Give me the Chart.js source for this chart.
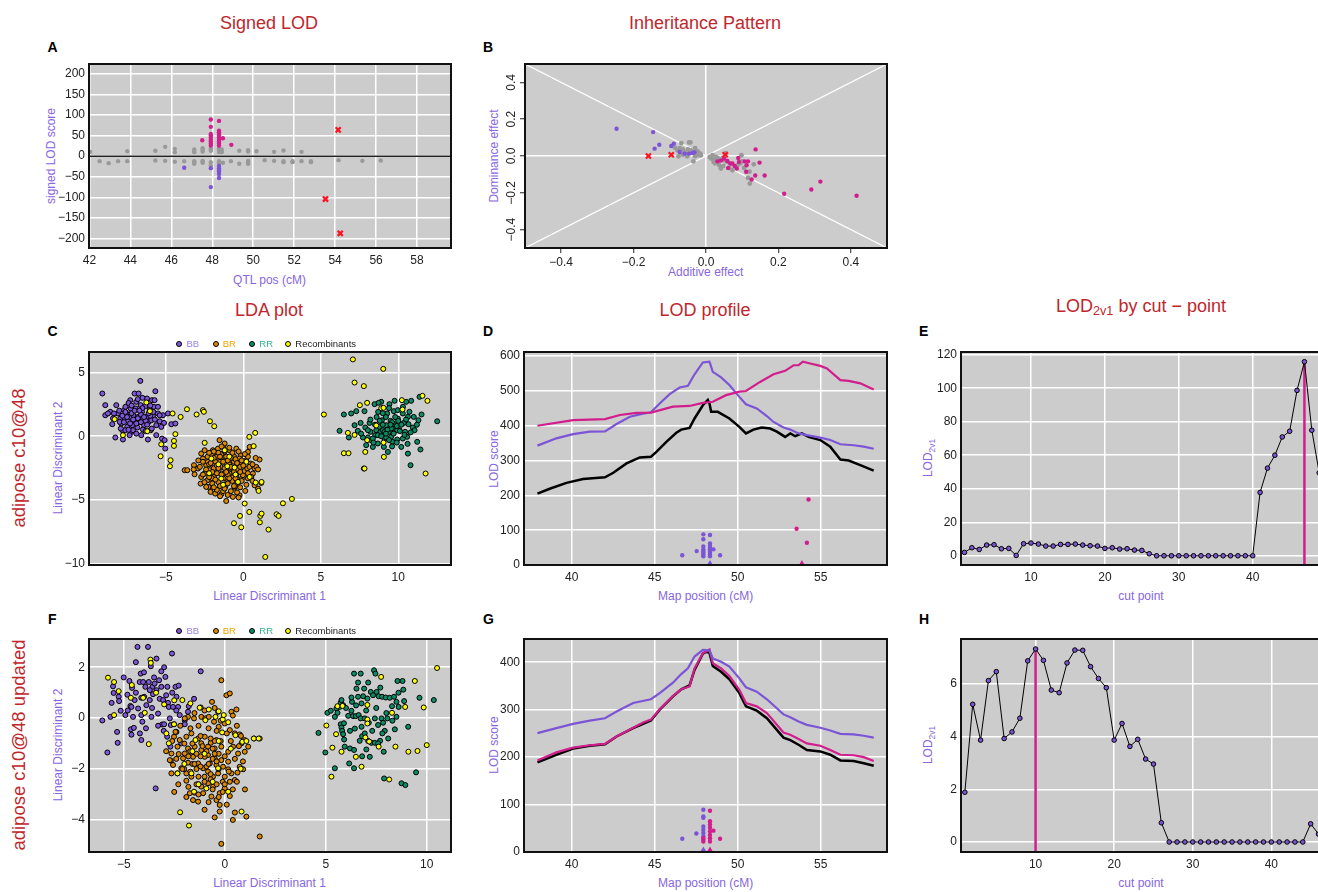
<!DOCTYPE html>
<html><head><meta charset="utf-8">
<script src="https://cdn.jsdelivr.net/npm/chart.js@4.4.1/dist/chart.umd.min.js"></script>
<style>
html,body{margin:0;padding:0;background:#fff;overflow:hidden;}
#fig{position:relative;width:1318px;height:892px;overflow:hidden;font-family:"Liberation Sans",Arial,Helvetica,sans-serif;}
canvas{position:absolute;}
.t{position:absolute;white-space:nowrap;transform:translate(-50%,-50%);line-height:1;}
.title{font-size:18px;color:#C0272D;}
.lab{position:absolute;font-size:14px;font-weight:bold;color:#000;transform:translate(0,-50%);line-height:1;}
.ax{font-size:12px;color:#8766DE;}
.rot{transform:translate(-50%,-50%) rotate(-90deg);}
.row{font-size:18.5px;color:#C0272D;}
.sub{font-size:70%;position:relative;top:0.3em;}
.leg{position:absolute;font-size:9.5px;white-space:nowrap;transform:translate(0,-50%);line-height:1;}
.dot{position:absolute;width:4px;height:4px;border:1px solid #000;border-radius:50%;transform:translate(-50%,-50%);}
</style>
</head>
<body>
<div id="fig">
  <div class="t title" style="left:269px;top:22.5px">Signed LOD</div>
  <div class="t title" style="left:705px;top:22.5px">Inheritance Pattern</div>
  <div class="t title" style="left:269px;top:309.5px">LDA plot</div>
  <div class="t title" style="left:705px;top:309.5px">LOD profile</div>
  <div class="t title" style="left:1141px;top:305.5px">LOD<span class="sub">2v1</span> by cut − point</div>

  <div class="lab" style="left:47.5px;top:47px">A</div>
  <div class="lab" style="left:483px;top:47px">B</div>
  <div class="lab" style="left:47.5px;top:331px">C</div>
  <div class="lab" style="left:483px;top:331px">D</div>
  <div class="lab" style="left:919px;top:331px">E</div>
  <div class="lab" style="left:48px;top:619px">F</div>
  <div class="lab" style="left:483px;top:619px">G</div>
  <div class="lab" style="left:919px;top:619px">H</div>

  <div class="t row rot" style="left:18.8px;top:458px">adipose c10@48</div>
  <div class="t row rot" style="left:18.8px;top:745px">adipose c10@48 updated</div>

  <div class="t ax" style="left:269.5px;top:280px">QTL pos (cM)</div>
  <div class="t ax rot" style="left:50.8px;top:156px">signed LOD score</div>
  <div class="t ax" style="left:705.7px;top:272px">Additive effect</div>
  <div class="t ax rot" style="left:494.3px;top:156px">Dominance effect</div>
  <div class="t ax" style="left:269.5px;top:596px">Linear Discriminant 1</div>
  <div class="t ax rot" style="left:58.3px;top:458px">Linear Discriminant 2</div>
  <div class="t ax" style="left:705.7px;top:596px">Map position (cM)</div>
  <div class="t ax rot" style="left:494.3px;top:458.5px">LOD score</div>
  <div class="t ax" style="left:1141px;top:596px">cut point</div>
  <div class="t ax rot" style="left:927.7px;top:458px">LOD<span class="sub">2v1</span></div>
  <div class="t ax" style="left:269.5px;top:883.3px">Linear Discriminant 1</div>
  <div class="t ax rot" style="left:58.3px;top:745px">Linear Discriminant 2</div>
  <div class="t ax" style="left:705.7px;top:883.3px">Map position (cM)</div>
  <div class="t ax rot" style="left:494.3px;top:745px">LOD score</div>
  <div class="t ax" style="left:1141px;top:883.3px">cut point</div>
  <div class="t ax rot" style="left:927.7px;top:745px">LOD<span class="sub">2v1</span></div>
</div>
<script>
// ---------------- DATA ----------------
// Panel A: signed LOD vs QTL position
const A_grey = [[42.04,10.5],[43.85,12],[45.22,13],[45.7,22.6],[46.17,17.7],[46.17,9.7],[47.12,16],[47.12,9.7],[47.12,13],[47.53,19.4],[47.53,11.3],[47.53,15],[47.93,19.4],[47.93,12.9],[47.93,15],[48.33,19.4],[48.33,14],[48.33,10],[48.46,16],[48.46,9.7],[48.46,13],[49.32,13],[49.75,14.5],[49.75,11.3],[50.16,12],[51.02,10.5],[51.48,13.7],[52.36,10.5],
  [42.5,-12.1],[42.94,-16.9],[43.4,-12.1],[43.85,-12.1],[45.22,-10.5],[45.7,-11.3],[46.17,-13.7],[46.63,-12.1],[47.12,-12.1],[47.12,-18.5],[47.12,-15],[47.53,-11.3],[47.53,-16.1],[47.53,-13.5],[47.93,-14.5],[47.93,-22.6],[48.33,-14.5],[48.33,-18],[48.33,-12],[48.52,-16.1],[48.91,-12.1],[49.32,-18.5],[49.75,-11.3],[49.75,-18.5],[49.75,-15],[50.56,-9.7],[51.02,-11.3],[51.48,-12.1],[51.48,-14.5],[51.92,-12.1],[51.92,-14.5],[52.36,-12.1],[52.82,-12.1],[52.82,-14.5],[54.17,-9.7],[55.33,-11.3],[56.23,-10.5]];
const A_mag = [[47.93,88.7],[47.93,71],[47.93,54],[47.93,50],[47.93,45],[47.93,40],[47.93,35.5],[47.93,30.6],[47.93,25.8],[48.33,85.5],[48.33,62],[48.33,58],[48.33,54],[48.33,50],[48.33,45],[48.33,40],[48.33,35.5],[48.33,30.6],[48.33,25.8],[48.52,43.5],[47.51,38.7],[48.93,27.4]];
const A_pur = [[46.63,-28.2],[47.93,-29],[47.93,-75],[48.33,-24],[48.33,-29],[48.33,-34],[48.33,-38],[48.33,-43.5],[48.33,-53]];
const A_red = [[54.15,63.7],[53.53,-104],[54.25,-187]];
const A_zero = [[41,0],[60,0]];
const A_xticks = [42,44,46,48,50,52,54,56,58];
const A_yticks = [-200,-150,-100,-50,0,50,100,150,200];

// Panel B: dominance vs additive effect
const B_grey = [[-0.068,0.070],[-0.047,0.074],[-0.043,0.074],[-0.079,0.031],[-0.073,0.043],[-0.064,0.036],[-0.050,0.036],[-0.041,0.031],[-0.030,0.043],[-0.023,0.025],[-0.016,0.013],[-0.014,0.004],[-0.076,-0.002],[-0.035,-0.029],[-0.030,-0.002],[-0.052,-0.002],[-0.064,0.007],[-0.025,0.011],[-0.086,0.045],[-0.058,0.020],[-0.045,0.015],[-0.020,0.005],[-0.070,0.018],
  [0.014,-0.014],[0.018,0.004],[0.023,-0.023],[0.027,-0.005],[0.032,-0.032],[0.037,-0.050],[0.041,-0.068],[0.050,-0.023],[0.059,-0.032],[0.073,-0.077],[0.087,-0.050],[0.098,0.004],[0.100,-0.029],[0.105,-0.065],[0.116,-0.119],[0.121,-0.150],[0.132,-0.045],[0.032,-0.011],[0.046,-0.011],[0.021,-0.032],[0.048,-0.054],[0.064,-0.065],[0.010,-0.005],[0.025,-0.040],[0.040,-0.020],[0.055,0.015],[0.095,-0.040],[0.120,-0.085]];
const B_pur = [[-0.247,0.148],[-0.146,0.130],[-0.129,0.061],[-0.142,0.040],[-0.096,0.054],[-0.089,0.067],[-0.073,0.022],[-0.059,0.013],[-0.047,0.013],[-0.037,0.016],[-0.032,0.020]];
const B_mag = [[0.137,0.036],[0.032,-0.029],[0.041,-0.025],[0.050,-0.014],[0.059,-0.027],[0.067,-0.041],[0.089,-0.011],[0.091,-0.032],[0.107,-0.029],[0.116,-0.029],[0.112,-0.050],[0.111,-0.086],[0.148,-0.036],[0.136,-0.106],[0.126,-0.128],[0.162,-0.106],[0.216,-0.205],[0.291,-0.182],[0.316,-0.139],[0.416,-0.216],[0.079,-0.054],[0.085,-0.068],[0.061,-0.065],[0.073,-0.041]];
const B_red = [[-0.159,0],[-0.096,0.007],[0.053,0.007]];
const B_diag1 = [[-0.5,0.5],[0.5,-0.5]];
const B_diag2 = [[-0.5,-0.5],[0.5,0.5]];
const B_ticks = [-0.4,-0.2,0,0.2,0.4];

// Panel C: LDA plot
const C_BB = [[-9.09,3.34],[-8.90,2.43],[-8.90,1.64],[-8.58,1.91],[-8.45,0.94],[-8.19,2.43],[-8.08,1.78],[-7.93,1.38],[-7.87,0.99],[-7.80,0.47],[-7.69,2.04],[-7.65,1.38],[-7.54,1.78],[-7.48,0.73],[-7.44,1.20],[-7.33,1.51],[-7.29,2.82],[-7.26,2.17],[-7.22,0.34],[-7.16,0.86],[-7.09,1.64],[-7.01,3.34],[-7.01,1.25],[-6.94,2.17],[-6.90,2.69],[-6.83,0.68],[-6.79,1.51],[-6.75,3.34],[-6.68,1.12],[-6.64,4.33],[-6.62,2.43],[-6.58,0.08],[-6.53,1.91],[-6.47,1.38],[-6.40,0.86],[-6.32,2.35],[-6.25,1.51],[-6.21,2.95],[-6.15,-0.26],[-6.10,1.12],[-6.04,2.04],[-5.97,0.47],[-5.89,2.82],[-5.82,1.59],[-5.76,2.30],[-5.72,2.82],[-5.67,3.52],[-5.61,0.08],[-5.50,1.78],[-5.39,1.17],[-5.29,0.73],[-5.24,-0.18],[-5.18,1.64],[-5.11,1.04],[-5.07,-0.31],[-5.03,-0.97],[-4.86,1.78],[-4.64,0.94],[-4.38,0.99],[-8.25,-0.10],[-7.76,-0.26],[-7.33,0.08],[-8.73,1.78],[-8.34,1.78],[-7.97,1.12],[-7.61,0.47],[-7.11,0.47],[-6.47,0.52],[-5.93,1.25],[-5.61,0.86],[-5.39,1.64],[-7.5,1.5],[-7.2,1.8],[-6.9,1.0],[-6.6,1.7],[-6.3,1.2],[-6.0,1.6],[-7.8,1.6],[-7.0,2.0],[-6.5,2.2],[-5.8,1.9],[-7.3,1.0],[-6.8,1.4],[-6.2,0.9],[-7.6,2.3],[-6.1,1.8],
  [-8.0,2.0],[-7.7,1.1],[-7.4,2.6],[-7.1,1.3],[-6.7,2.0],[-6.4,1.5],[-6.0,2.4],[-5.7,1.3],[-7.9,0.6],[-7.4,0.5],[-6.9,0.2],[-6.6,1.1],[-7.2,2.4],[-6.8,2.9],[-5.9,0.6],[-8.4,1.4],[-6.3,0.4],[-5.5,2.3],[-7.6,1.9],[-6.5,3.0]];
const C_BR = [[-3.78,-2.66],[-3.61,-2.66],[-3.18,-2.27],[-3.14,-2.98],[-2.75,-3.71],[-2.71,-1.36],[-2.60,-1.75],[-2.49,-1.10],[-2.39,-2.27],[-2.32,-3.45],[-2.24,-3.97],[-2.17,-2.66],[-2.11,-4.36],[-1.96,-1.10],[-1.89,-3.19],[-1.81,-4.49],[-1.74,-1.62],[-1.63,-0.97],[-1.53,-0.31],[-1.46,-2.40],[-1.42,-4.54],[-1.31,-0.84],[-1.25,-2.92],[-1.20,-0.57],[-1.16,-3.97],[-1.10,-5.07],[-1.03,-3.58],[-0.99,-1.88],[-0.88,-1.10],[-0.82,-2.53],[-0.77,-3.19],[-0.67,-4.75],[-0.60,-1.57],[-0.56,-4.02],[-0.45,-0.97],[-0.39,-2.27],[-0.34,-2.79],[-0.30,-3.58],[-0.24,-4.62],[-0.17,-1.49],[-0.13,-2.14],[-0.09,-3.32],[-0.02,-3.05],[0.09,-2.72],[0.13,-4.28],[0.19,-1.88],[0.26,-2.53],[0.41,-0.84],[0.47,-2.14],[0.62,-2.92],[0.73,-2.53],[0.84,-2.40],[0.95,-2.60],[1.05,-1.83],[1.16,-3.66],[0.95,-4.10],[0.73,-3.84],[0.52,-3.19],[0.30,-1.23],[-2.49,-2.92],[-2.28,-2.01],[-2.02,-1.49],[-1.85,-2.27],[-1.59,-2.66],[-1.38,-1.62],[-1.10,-2.14],[-0.88,-2.92],[-0.67,-2.53],[-0.45,-3.13],[-0.24,-1.75],[-2.92,-2.53],[-2.71,-3.19],[-2.39,-3.97],[-1.5,-2.0],[-1.2,-2.5],[-0.9,-2.2],[-1.7,-2.9],[-1.3,-3.3],[-0.6,-2.0],[-1.0,-3.0],[-0.4,-2.6],[-1.9,-2.5],[-1.4,-1.4],[-0.7,-3.5],[-1.6,-3.6],[-2.0,-3.3],[-0.2,-2.4],[-1.1,-1.6],[-0.8,-1.7],[-2.2,-2.2],[-1.8,-2.0],[-0.5,-3.9],[-1.3,-4.3],
  [-1.9,-1.2],[-1.6,-1.3],[-1.2,-1.2],[-0.7,-1.3],[-0.3,-1.2],[-2.3,-1.6],[-1.9,-1.7],[-1.5,-1.6],[-1.0,-1.9],[-0.5,-1.8],[-0.1,-1.9],[0.3,-1.6],[-2.6,-2.0],[-2.1,-2.1],[-1.7,-2.3],[-1.3,-2.0],[-0.8,-2.4],[-0.4,-2.1],[0.0,-2.3],[0.4,-2.4],[-2.8,-2.4],[-2.4,-2.6],[-2.0,-2.8],[-1.6,-2.5],[-1.1,-2.8],[-0.6,-2.8],[-0.2,-2.8],[0.3,-2.9],[0.6,-2.2],[-2.6,-3.0],[-2.2,-3.2],[-1.8,-3.4],[-1.4,-3.0],[-0.9,-3.3],[-0.5,-3.3],[-0.1,-3.5],[0.3,-3.3],[-2.0,-3.7],[-1.5,-3.9],[-1.0,-3.7],[-0.6,-3.9],[-0.2,-4.0],[0.2,-3.8],[-1.7,-4.2],[-1.2,-4.1],[-0.8,-4.3],[-0.4,-4.4],[-1.0,-4.6],[-2.9,-1.9],[-3.2,-2.6],[-2.5,-3.6],[0.6,-3.5],[0.8,-1.7],[-0.9,-0.9],[-1.4,-0.8],[-2.2,-1.3],[0.1,-1.4],[-1.9,-4.0],[-0.3,-4.8],[-1.5,-4.7]];
const C_RR = [[6.21,0.42],[6.49,1.70],[6.81,-0.10],[6.96,1.78],[7.18,0.86],[7.29,1.96],[7.39,0.42],[7.57,1.04],[7.72,-0.10],[7.78,-2.53],[7.82,1.96],[7.87,0.68],[7.93,-0.70],[8.04,-0.10],[8.15,1.04],[8.21,0.34],[8.25,-0.31],[8.36,-0.84],[8.47,2.51],[8.51,0.08],[8.58,0.47],[8.68,-0.57],[8.79,0.73],[8.85,0.34],[8.90,2.69],[8.94,1.25],[9.00,0.47],[9.07,-0.84],[9.11,-0.18],[9.22,0.86],[9.28,1.78],[9.33,-1.23],[9.39,0.34],[9.43,2.51],[9.50,1.20],[9.54,-0.05],[9.61,-0.44],[9.71,1.96],[9.76,0.94],[9.86,0.47],[9.93,-0.26],[9.97,1.38],[10.08,0.47],[10.19,-0.84],[10.29,1.78],[10.36,1.04],[10.44,0.34],[10.51,2.69],[10.57,-0.05],[10.62,-1.36],[10.66,0.94],[10.72,1.91],[10.79,-2.27],[10.83,2.77],[10.94,0.68],[11.00,1.51],[11.22,-0.44],[11.30,1.25],[11.37,3.08],[11.43,-1.04],[12.51,1.17],[8.73,2.61],[9.76,2.77],[8.36,-0.18],[8.04,0.47],[9.11,0.34],[9.54,0.60],[9.93,0.47],[10.29,-0.18],[8.68,0.08],[9.22,-0.10],[9.97,2.04],[10.62,1.51],[11.05,0.47],[9.0,0.9],[9.3,0.5],[9.6,1.1],[9.9,0.8],[8.8,1.2],[9.4,-0.3],[10.2,0.9],[9.7,0.2],[8.6,1.5],[10.0,1.2],[9.2,1.5],[10.4,0.1],
  [8.2,1.3],[8.5,0.9],[8.9,0.0],[9.2,0.2],[9.5,0.9],[9.8,1.5],[10.1,0.4],[10.5,1.3],[10.8,0.3],[9.0,1.8],[8.4,-0.5],[9.6,-0.8],[10.3,2.3],[11.2,0.9],[9.9,-0.5],[8.7,1.9],[7.6,0.2],[10.6,-0.6],[9.4,2.2],[11.5,1.7]];
const C_REC = [[7.07,6.01],[9.03,5.27],[7.18,4.20],[7.78,3.92],[5.20,1.70],[7.52,2.43],[7.99,2.61],[8.90,2.19],[10.23,2.82],[11.56,3.16],[11.88,2.77],[8.58,0.84],[9.05,2.22],[10.27,2.09],[7.99,-0.31],[6.75,0.26],[7.18,0.10],[6.49,-1.33],[6.79,-1.33],[7.87,-1.23],[9.05,-0.50],[9.07,-1.62],[7.82,-2.53],[11.76,-2.92],
  [-8.30,1.33],[-7.76,0.08],[-6.25,2.64],[-6.19,0.39],[-6.02,1.96],[-5.29,-0.63],[-5.33,-1.57],[-4.69,-1.88],[-4.73,-2.35],[-4.56,1.78],[-4.47,-0.37],[-4.47,-0.76],[-4.38,0.16],[-4.04,1.51],[-3.63,2.11],[-3.01,1.70],[-2.60,2.04],[-2.54,1.91],[-2.15,1.17],[-1.87,0.78],[0.39,-0.05],[0.77,0.26],[0.67,-0.78],[-2.49,-0.52],[0.41,-3.19],[0.80,-3.63],[0.99,-4.28],[1.18,-3.58],[0.09,-5.27],[0.39,-5.93],[-0.21,-6.24],[-0.60,-6.81],[-0.13,-7.13],[1.10,-6.24],[1.18,-6.06],[1.07,-6.74],[1.63,-7.31],[2.15,-6.11],[2.28,-6.24],[2.56,-5.25],[3.14,-4.91],[1.42,-9.45],[-1.03,-2.35],[-1.42,-3.32],[-0.56,-2.45],[-1.20,-1.10],[-0.34,-3.58],[-2.06,-1.75],
  [-1.6,-2.2],[-0.9,-1.6],[-0.5,-3.0],[-1.3,-3.8],[-2.2,-2.9],[0.2,-2.0]];
const C_xticks = [-5,0,5,10];
const C_yticks = [-10,-5,0,5];

// Panel D: LOD profile (original genotypes)
const D_black = [[37.93,205],[38.67,219],[39.68,236],[40.68,247],[42.0,252],[42.5,265],[43.3,292],[44.1,309],[44.77,311],[45.1,325],[45.7,354],[46.3,380],[46.6,389],[47.1,394],[47.4,421],[47.9,459],[48.2,474],[48.3,464],[48.4,440],[48.8,440],[49.5,421],[50.1,397],[50.5,378],[50.95,389],[51.45,395],[51.96,392],[52.36,383],[52.86,368],[53.17,378],[53.47,370],[53.87,378],[54.27,368],[54.98,359],[55.58,340],[56.19,303],[56.69,300],[57.39,287],[58.2,271]];
const D_purple = [[37.93,343],[39.07,364],[40.08,376],[41.09,383],[42.0,384],[42.7,405],[43.5,426],[44.3,435],[44.77,439],[45.3,464],[45.9,491],[46.5,510],[47.0,515],[47.4,548],[47.9,582],[48.3,584],[48.5,555],[49.0,539],[49.5,517],[50.1,483],[50.5,462],[51.15,450],[51.76,428],[52.16,411],[52.76,395],[53.17,389],[53.67,378],[54.17,373],[54.98,366],[55.58,359],[56.19,347],[56.99,344],[57.6,340],[58.2,334]];
const D_magenta = [[37.93,400],[40.08,416],[42.0,419],[42.9,431],[43.9,437],[44.77,438],[46.1,455],[47.1,457],[47.9,466],[48.5,469],[49.3,488],[50.1,498],[50.5,500],[51.35,526],[52.16,548],[52.86,558],[53.37,574],[53.67,574],[53.93,584],[54.37,579],[54.98,572],[55.38,565],[56.19,531],[56.69,529],[57.39,522],[58.2,504]];
const D_ptsPur = [[46.66,28],[47.53,40],[47.93,88],[47.93,74],[47.93,53],[47.93,45],[47.93,40],[47.93,35],[47.93,30],[47.93,25],[48.33,86],[48.33,62],[48.33,55],[48.33,50],[48.33,45],[48.33,40],[48.33,35],[48.33,30],[48.33,25],[48.54,45],[48.94,28]];
const D_ptsMag = [[54.27,188],[53.55,104],[54.17,64]];
const D_peakPur = [[48.33,4]];
const D_peakMag = [[53.87,4]];
const D_xticks = [40,45,50,55];
const D_yticks = [0,100,200,300,400,500,600];

// Panel E: LOD2v1 by cut-point (original)
const E_lod = [2,4.8,3.8,6.4,6.6,4.2,4.4,0.2,7.2,7.6,7.0,5.8,5.8,6.8,6.8,7.0,6.4,6.0,5.8,4.4,4.8,4.0,4.2,3.4,3.2,1.2,0,0,0,0,0,0,0,0,0,0,0,0,0,0,37.8,52.3,60,70.9,74.3,98.7,115.8,74.9,49.5,30];
const E_best = [[47,-20],[47,115.8]];
const E_xticks = [10,20,30,40];
const E_yticks = [0,20,40,60,80,100,120];

// Panel F: LDA plot (updated)
const F_BB = [[-6.06,-0.09],[-5.81,-1.35],[-5.66,0.05],[-5.53,1.25],[-5.50,0.99],[-5.33,-0.54],[-5.30,-0.97],[-5.25,0.84],[-5.23,0.67],[-5.15,0.29],[-4.92,0.12],[-4.82,0.92],[-4.72,1.46],[-4.67,0.48],[-4.65,-0.44],[-4.62,-0.65],[-4.59,1.19],[-4.54,0.05],[-4.50,-0.38],[-4.46,0.71],[-4.32,2.80],[-4.21,1.42],[-4.16,1.75],[-4.13,0.80],[-4.13,-0.86],[-4.08,-0.14],[-3.99,0.84],[-3.93,1.23],[-3.88,0.51],[-3.80,2.80],[-3.76,1.42],[-3.71,0.71],[-3.66,2.04],[-3.63,0.05],[-3.58,1.23],[-3.55,0.94],[-3.47,1.36],[-3.42,-2.76],[-3.38,2.34],[-3.30,0.18],[-3.25,1.49],[-3.22,0.76],[-3.14,1.84],[-3.10,-0.25],[-3.05,0.71],[-3.00,-0.24],[-2.94,1.62],[-2.84,1.23],[-2.81,0.60],[-2.77,0.44],[-2.72,-0.01],[-2.67,-0.27],[-2.61,2.54],[-2.56,0.44],[-2.44,1.23],[-2.39,0.84],[-2.31,0.44],[-2.28,1.28],[-2.23,0.12],[-1.98,-0.08],[-1.78,0.47],[-1.52,0.76],[-1.19,1.84],[-2.51,-0.24],[-1.98,-0.24],[-4.62,0.44],[-4.29,0.38],[-4.13,0.12],[-3.38,1.10],[-3.14,1.23],[-3.71,1.10],[-4.04,1.42],[-2.85,-0.73],[-3.02,-0.50],[-2.69,-1.12],[-2.67,-1.67],[-2.39,-0.54],[-2.15,-0.99],[-1.82,0.25],
  [-4.4,1.0],[-4.0,1.8],[-3.6,0.4],[-3.3,-0.3],[-2.9,0.9],[-4.8,0.3],[-5.0,1.6],[-3.9,-0.4],[-3.5,1.6],[-2.6,1.0],[-4.4,2.2],[-3.0,2.0],[-5.6,0.6],[-4.2,-0.6],[-2.4,0.3]];
const F_BR = [[-0.17,1.49],[0.08,0.90],[0.25,0.97],[0.33,0.25],[0.58,0.34],[-0.63,0.64],[-0.33,0.25],[-1.19,0.42],[-1.82,0.05],[-1.98,-0.01],[-1.52,-0.01],[-1.16,0.05],[-0.96,-0.01],[-0.79,0.05],[-0.53,-0.14],[-0.30,-0.34],[0,-0.21],[0.25,-0.47],[0.50,-0.60],[0.74,-0.64],[0.99,-0.86],[1.45,-0.80],[1.73,-0.80],[0.83,-0.99],[0.41,-1.12],[0.17,-1.32],[-0.17,-1.12],[-0.41,-0.86],[-0.69,-0.97],[-0.99,-0.73],[-1.32,-0.80],[-1.65,-0.60],[-1.90,-0.73],[-2.23,-0.86],[-2.44,-0.54],[-2.51,-0.73],[-2.34,-1.12],[-2.64,-1.39],[-2.72,-1.65],[-2.28,-1.41],[-2.06,-1.58],[-1.82,-1.75],[-1.57,-1.52],[-1.32,-1.78],[-1.07,-1.97],[-0.83,-2.10],[-0.58,-2.30],[-0.33,-2.17],[-0.08,-1.91],[0.17,-2.01],[0.63,-2.14],[0.91,-2.01],[0.74,-1.91],[0.50,-2.43],[0.25,-2.50],[0,-2.76],[-0.25,-2.95],[-0.41,-3.22],[-0.58,-2.69],[-0.83,-2.56],[-1.16,-2.69],[-1.49,-2.93],[-1.73,-2.95],[-1.57,-3.22],[-1.32,-3.28],[-1.07,-2.95],[-0.66,-3.08],[-0.25,-3.41],[-0.25,-3.67],[0.25,-3.06],[0.50,-3.71],[1.07,-3.87],[1.73,-4.65],[-0.17,-4.94],[-2.64,-2.17],[-2.34,-2.17],[-1.90,-2.46],[-1.90,-2.17],[-2.15,-1.97],[-2.56,-1.84],[-1.65,-2.30],[-1.98,-1.39],[-1.49,-1.12],[-1.16,-1.25],[-0.83,-1.45],[-0.50,-1.58],[-0.17,-1.65],[0.17,-1.71],[-0.83,-1.12],[-0.50,-1.19],[-1.16,-0.99],[-1.82,-1.19],[-0.99,-1.52],[-0.74,-1.78],[-0.41,-1.84],[0,-2.30],[0.33,-2.17],[0.66,-1.39],[0.99,-1.32],[1.16,-1.12],[-1.2,-1.5],[-0.9,-1.9],[-0.6,-1.6],[-1.4,-2.0],[-0.3,-1.4],[-1.0,-2.3],[-0.7,-2.4],[-1.6,-1.8],[-0.4,-2.6],[-1.3,-2.6],[-0.1,-2.5],[-0.5,-0.9],[-1.7,-1.3],[-2.0,-2.0],
  [-2.2,-0.3],[-1.7,-0.4],[-1.3,-0.3],[-0.8,-0.4],[-0.4,-0.5],[0.1,-0.6],[0.6,-0.3],[-2.0,-1.0],[-1.6,-1.0],[-1.2,-0.7],[-0.7,-0.8],[-0.2,-0.9],[0.3,-0.9],[0.7,-1.1],[-2.4,-1.6],[-1.8,-1.5],[-1.4,-1.4],[-0.9,-1.3],[-0.5,-1.4],[0.0,-1.5],[0.5,-1.6],[0.9,-1.7],[-2.1,-2.0],[-1.7,-2.1],[-1.3,-2.3],[-0.8,-1.8],[-0.3,-2.0],[0.2,-2.1],[0.6,-2.5],[-2.3,-2.6],[-1.8,-2.7],[-1.4,-2.6],[-1.0,-2.5],[-0.6,-2.8],[-0.1,-2.9],[0.4,-2.8],[-1.9,-3.1],[-1.3,-3.0],[-0.8,-3.3],[-0.3,-3.1],[0.1,-3.4],[-1.0,-3.6],[-0.5,-3.9],[0.4,-4.0],[-2.6,-0.9],[-2.9,-1.3],[-1.0,0.3],[-0.5,0.4],[-1.5,0.2],[-2.5,-2.9],[1.0,-2.8],[0.8,-0.7],[-0.2,-0.1],[0.4,0.1],[-1.1,-1.1],[-0.6,-1.2],[-1.5,-1.8],[-0.4,-1.7],[-1.2,-1.9],[-0.7,-2.2],[0.0,-2.6]];
const F_RR = [[4.64,-0.58],[4.98,-1.35],[5.08,0.21],[5.25,0.29],[5.45,-1.97],[5.53,0.38],[5.58,0.21],[5.69,0.44],[5.74,0.61],[5.78,0.71],[5.86,0.51],[5.74,-0.24],[5.78,-0.37],[5.81,-0.50],[5.86,-0.63],[5.91,-0.84],[5.94,-1.12],[6.11,0.09],[6.20,-1.19],[6.30,0.64],[6.35,0.08],[6.40,-1.25],[6.40,-1.97],[6.40,1.75],[6.49,0.08],[6.52,1.16],[6.60,0.84],[6.63,0.12],[6.73,-0.01],[6.73,1.75],[6.77,-0.34],[6.80,-0.71],[6.85,0.86],[6.90,1.16],[6.93,-0.60],[7.01,-1.23],[7.06,0.77],[7.10,-0.90],[7.13,-0.18],[7.18,-1.52],[7.23,1.03],[7.26,-0.97],[7.34,0.90],[7.39,1.88],[7.43,-0.97],[7.46,1.75],[7.52,1.03],[7.59,-0.27],[7.62,0.86],[7.69,-0.89],[7.76,-0.01],[7.79,0.84],[7.84,-0.18],[7.87,-1.32],[7.89,-2.37],[7.97,0.81],[8.05,-0.01],[8.09,-0.80],[8.17,0.80],[8.28,0.47],[8.38,0.84],[8.42,-0.44],[8.50,0.05],[8.55,1.46],[8.61,0.44],[8.75,-2.56],[8.80,1.46],[8.84,1.12],[8.88,0.67],[8.94,-2.63],[9.08,-0.34],[9.47,-2.13],[9.64,0.80],[10.35,0.71],[6.27,0.81],[6.93,-0.01],[6.44,-0.41],[7.59,-0.99],[7.43,-0.01],[6.68,-0.89],[6.16,-1.78],[5.45,0.05],[6.27,0.29],[6.77,0.58],[7.92,-0.50],[8.50,0.64],
  [6.0,0.4],[6.5,0.5],[7.0,0.3],[7.5,0.4],[8.0,0.2],[6.2,-0.5],[6.8,-1.5],[7.3,-0.5],[7.8,-0.6],[8.3,-0.1],[6.6,1.4],[7.1,1.4],[8.6,1.0],[5.9,-0.2],[7.7,1.2]];
const F_REC = [[-5.78,1.59],[-5.48,1.42],[-5.48,0.12],[-5.25,1.06],[-4.65,0.80],[-4.04,0.80],[-3.96,0.21],[-3.76,-1.02],[-3.68,2.30],[-3.66,2.17],[-3.00,0.54],[-2.89,-0.60],[-2.77,-0.99],[-2.51,-0.24],[-2.34,-2.17],[-2.21,-3.70],[-2.10,0.71],[-1.77,-4.22],[-1.70,0.58],[-1.45,-0.86],[-1.24,0.41],[-0.96,-0.08],[-0.79,0.34],[-0.46,0.05],[-0.30,0.27],[-0.13,-0.56],[-0.10,-0.05],[-0.05,0.12],[0.17,-0.16],[0.53,-0.67],[0.79,-1.99],[0.87,-0.93],[1.07,-0.90],[1.44,-0.80],[1.68,-0.80],[0.83,-3.67],[0.17,-2.89],[-0.33,-1.97],[-0.91,-2.76],[-1.65,-2.17],[-1.52,-2.89],
  [5.03,-0.29],[5.51,-0.63],[5.58,0.47],[5.78,-1.32],[6.49,-1.52],[6.77,-1.91],[5.28,-2.30],[5.83,0.48],[6.96,-0.76],[7.06,-0.05],[7.06,0.52],[7.06,-0.21],[7.62,-1.12],[7.74,1.62],[8.14,-2.41],[8.28,0.21],[8.45,-1.12],[8.93,0.44],[9.09,-1.32],[9.41,1.46],[9.54,-1.29],[9.85,0.42],[10.00,-1.06],[10.51,1.97],[5.33,-1.16],[7.15,-0.92],
  [-1.0,-1.4],[-0.6,-2.5],[-1.6,-1.3],[-0.3,-0.9],[-2.0,-1.8],[0.3,-1.2],[-1.3,-2.6],[-3.4,1.0],[-4.6,1.3],[-2.5,0.7]];
const F_xticks = [-5,0,5,10];
const F_yticks = [-4,-2,0,2];

// Panel G: LOD profile (updated genotypes)
const G_black = [[37.93,189],[39.07,205],[40.08,218],[41.09,224],[42,227],[42.7,243.5],[43.7,261],[44.77,277],[45.3,300],[46.1,328],[46.6,343],[47.1,351],[47.4,384],[47.9,418],[48.1,422],[48.3,420],[48.5,392],[49.0,380],[49.5,364],[50.1,335],[50.5,307],[51.15,298],[51.76,282],[52.76,241],[53.17,236],[53.67,226],[54.17,215],[54.98,212],[55.58,205],[56.19,193],[56.99,192],[57.6,187],[58.2,182]];
const G_purple = [[37.93,250.5],[39.07,261],[40.08,270],[41.09,277],[42,282],[42.7,296],[43.7,314],[44.77,322],[45.3,335],[46.1,357],[46.6,375],[47.0,387],[47.4,412],[47.9,426],[48.3,425],[48.5,408],[49.0,401],[49.5,391],[50.1,366],[50.5,347],[51.15,338],[51.76,322],[52.76,290],[53.17,284],[53.67,275],[54.17,268],[54.98,262],[55.58,256],[56.19,249],[56.99,248],[57.6,245],[58.2,241]];
const G_magenta = [[37.93,193],[39.07,210],[40.08,220],[41.09,225],[42,228],[42.7,243.5],[43.7,262],[44.3,273],[44.77,279],[45.3,301],[46.1,329],[46.6,343],[47.1,349],[47.4,387],[47.9,419],[48.3,427],[48.5,398],[49.0,387],[49.5,371],[50.1,342],[50.5,314],[51.15,307],[51.76,293],[52.76,252],[53.17,247],[53.67,238],[54.17,229],[54.98,224],[55.58,215],[56.19,205],[56.99,204],[57.6,200],[58.2,192]];
const G_ptsPur = [[46.66,28],[47.51,39],[47.93,89],[47.93,75],[47.93,72],[47.93,54],[47.93,47],[47.93,40],[47.93,33],[47.93,26]];
const G_ptsMag = [[48.33,87],[48.33,65],[48.33,58],[48.33,51],[48.33,44],[48.33,36],[48.33,29],[48.33,22],[48.54,45],[48.94,28],[47.93,29],[47.93,22]];
const G_peakPur = [[47.93,4]];
const G_peakMag = [[48.33,4]];
const G_yticks = [0,100,200,300,400];

// Panel H: LOD2v1 by cut-point (updated)
const H_lod = [1.89,5.23,3.87,6.13,6.47,3.93,4.18,4.70,6.88,7.33,6.90,5.77,5.67,6.80,7.29,7.28,6.66,6.21,5.86,3.87,4.50,3.63,3.90,3.15,2.96,0.73,0,0,0,0,0,0,0,0,0,0,0,0,0,0,0,0,0,0,0.69,0.30,0];
const H_best = [[10,-2],[10,7.33]];
const H_xticks = [10,20,30,40];
const H_yticks = [0,2,4,6];

// ---------------- COLOURS ----------------
const C_PUR = '#7B55D6', C_MAG = '#D11E8C', C_GREY = '#999999', C_RED = '#FF1020';
const C_BBc = '#7E57DA', C_BRc = '#DB8A00', C_RRc = '#0B8C66', C_RECc = '#FFFF00';

// ---------------- HELPERS ----------------
Chart.defaults.font.family = '"Liberation Sans", Arial, Helvetica, sans-serif';
Chart.defaults.font.size = 12;
Chart.defaults.color = '#222';
const fig = document.getElementById('fig');
const LW = 60, BH = 40, PT = 12, PR = 20;
const P = a => a.map(([x, y]) => ({x, y}));
const fmtNum = (v, dec) => (dec == null ? String(Math.round(v * 1000) / 1000) : Number(v).toFixed(dec)).replace('-', '\u2212');

const panelBg = {
  id: 'panelBg',
  beforeDraw(c) { const a = c.chartArea, x = c.ctx; x.save(); x.fillStyle = '#CCCCCC'; x.fillRect(a.left, a.top, a.right - a.left, a.bottom - a.top); x.restore(); },
  afterDraw(c) { const a = c.chartArea, x = c.ctx; x.save(); x.strokeStyle = '#111'; x.lineWidth = 2; x.strokeRect(a.left, a.top, a.right - a.left, a.bottom - a.top); x.restore(); }
};

function mkScale(axis, o) {
  const isX = axis === 'x';
  const tk = o[axis + 'Ticks'], dec = o[axis + 'Dec'];
  const rot = !isX && o.yRot;
  return {
    type: 'linear', position: isX ? 'bottom' : 'left',
    min: o[axis + 'Min'], max: o[axis + 'Max'],
    afterBuildTicks: s => { s.ticks = tk.map(v => ({value: v})); },
    afterFit: s => { if (isX) s.height = BH; else s.width = LW; },
    grid: {
      color: o.zeroGrid ? (c => (c.tick && c.tick.value === 0) ? '#ffffff' : 'rgba(0,0,0,0)') : '#ffffff',
      lineWidth: 1.5, drawTicks: !!o.tickMarks, tickLength: o.tickMarks ? 5 : 0,
      tickColor: '#222', tickWidth: 1
    },
    border: {display: false},
    ticks: {
      autoSkip: false, color: '#222', font: {size: 12},
      padding: isX ? (o.xPad ?? 5) : (o.yPad ?? 4),
      minRotation: rot ? 90 : 0, maxRotation: rot ? 90 : 0,
      crossAlign: rot ? 'center' : 'near',
      callback: v => fmtNum(v, dec)
    }
  };
}

function panel(box, o) {
  const [l, t, r, b] = box;
  const W = r - l + LW + PR, H = b - t + PT + BH;
  const cv = document.createElement('canvas');
  cv.width = W; cv.height = H;
  cv.style.left = (l - LW) + 'px'; cv.style.top = (t - PT) + 'px';
  cv.style.width = W + 'px'; cv.style.height = H + 'px';
  fig.appendChild(cv);
  const n = o.datasets.length;
  o.datasets.forEach((d, i) => { d.order = n - i; if (d.clip === undefined) d.clip = 0; });
  new Chart(cv, {
    type: 'scatter',
    data: {datasets: o.datasets},
    options: {
      responsive: false, devicePixelRatio: 1, animation: false, events: [],
      layout: {padding: {left: 0, top: PT, right: PR, bottom: 0}},
      plugins: {legend: {display: false}, tooltip: {enabled: false}},
      scales: {x: mkScale('x', o), y: mkScale('y', o)}
    },
    plugins: [panelBg]
  });
}

const dots = (data, color, r = 2.2) => ({data: P(data), backgroundColor: color, borderColor: color, borderWidth: 0, pointRadius: r});
const ring = (data, color) => ({data: P(data), backgroundColor: color, borderColor: '#000', borderWidth: 1, pointRadius: 2.5});
const crosses = data => ({data: P(data), pointStyle: 'crossRot', borderColor: C_RED, backgroundColor: C_RED, borderWidth: 2.2, pointRadius: 3.6});
const tri = (data, color) => ({data: P(data), pointStyle: 'triangle', backgroundColor: color, borderColor: color, borderWidth: 0, pointRadius: 3.5});
const line = (data, color, w) => ({type: 'line', data: P(data), borderColor: color, borderWidth: w, pointRadius: 0, tension: 0, fill: false});
const cutLine = (vals, col) => ({type: 'line', data: vals.map((y, i) => ({x: i + 1, y})), borderColor: '#000', borderWidth: 1, tension: 0, fill: false,
  pointRadius: 2.3, pointBackgroundColor: col, pointBorderColor: '#000', pointBorderWidth: 1});

// ---------------- PANELS ----------------
panel([89, 64, 451, 248], {
  xMin: 41.98, xMax: 59.66, yMin: -222.6, yMax: 223.4, xTicks: A_xticks, yTicks: A_yticks,
  datasets: [line(A_zero, '#222', 1.5), dots(A_grey, C_GREY), dots(A_mag, C_MAG), dots(A_pur, C_PUR), crosses(A_red)]
});
panel([525, 64, 887, 248], {
  xMin: -0.5, xMax: 0.5, yMin: -0.5, yMax: 0.5, xTicks: B_ticks, yTicks: B_ticks, xDec: 1, yDec: 1,
  zeroGrid: true, tickMarks: true, yRot: true, xPad: 2, yPad: -3.5,
  datasets: [line(B_diag1, '#ffffff', 1.2), line(B_diag2, '#ffffff', 1.2), dots(B_grey, C_GREY, 2.4), dots(B_pur, C_PUR), dots(B_mag, C_MAG), crosses(B_red)]
});
panel([89, 352, 451, 565], {
  xMin: -9.95, xMax: 13.4, yMin: -10.08, yMax: 6.59, xTicks: C_xticks, yTicks: C_yticks,
  datasets: [ring(C_BB, C_BBc), ring(C_BR, C_BRc), ring(C_RR, C_RRc), ring(C_REC, C_RECc)]
});
panel([524, 352, 887, 565], {
  xMin: 37.12, xMax: 59.0, yMin: 0, yMax: 612, xTicks: D_xticks, yTicks: D_yticks,
  datasets: [line(D_black, '#000', 2.5), line(D_purple, C_PUR, 2.2), line(D_magenta, C_MAG, 2.2),
    dots(D_ptsPur, C_PUR), dots(D_ptsMag, C_MAG), tri(D_peakPur, C_PUR), tri(D_peakMag, C_MAG)]
});
panel([961, 352, 1330, 565], {
  xMin: 0.53, xMax: 50.46, yMin: -5.5, yMax: 121.6, xTicks: E_xticks, yTicks: E_yticks,
  datasets: [line(E_best, C_MAG, 2.5), cutLine(E_lod, C_PUR)]
});
panel([89, 639, 451, 852], {
  xMin: -6.72, xMax: 11.2, yMin: -5.26, yMax: 3.11, xTicks: F_xticks, yTicks: F_yticks,
  datasets: [ring(F_BB, C_BBc), ring(F_BR, C_BRc), ring(F_RR, C_RRc), ring(F_REC, C_RECc)]
});
panel([524, 639, 887, 852], {
  xMin: 37.12, xMax: 59.0, yMin: 0, yMax: 449, xTicks: D_xticks, yTicks: G_yticks,
  datasets: [line(G_black, '#000', 2.5), line(G_magenta, C_MAG, 2.2), line(G_purple, C_PUR, 2.2),
    dots(G_ptsPur, C_PUR), dots(G_ptsMag, C_MAG), tri(G_peakPur, C_PUR), tri(G_peakMag, C_MAG)]
});
panel([961, 639, 1330, 852], {
  xMin: 0.51, xMax: 47.46, yMin: -0.38, yMax: 7.71, xTicks: H_xticks, yTicks: H_yticks,
  datasets: [line(H_best, C_MAG, 2.5), cutLine(H_lod, C_PUR)]
});

// ---------------- LEGENDS (C and F) ----------------
const LEG = [['BB', C_BBc, '#9B80E8', 179.3, 186.5], ['BR', C_BRc, '#EFA200', 215.7, 222.7], ['RR', C_RRc, '#2BB38A', 252, 259.3], ['Recombinants', C_RECc, '#222', 288, 295.3]];
[343.7, 631].forEach(y => {
  LEG.forEach(([name, fill, tcol, cx, tx]) => {
    const d = document.createElement('div'); d.className = 'dot';
    d.style.left = cx + 'px'; d.style.top = y + 'px'; d.style.background = fill; fig.appendChild(d);
    const s = document.createElement('div'); s.className = 'leg'; s.textContent = name;
    s.style.left = tx + 'px'; s.style.top = y + 'px'; s.style.color = tcol; fig.appendChild(s);
  });
});
</script>
</body></html>
